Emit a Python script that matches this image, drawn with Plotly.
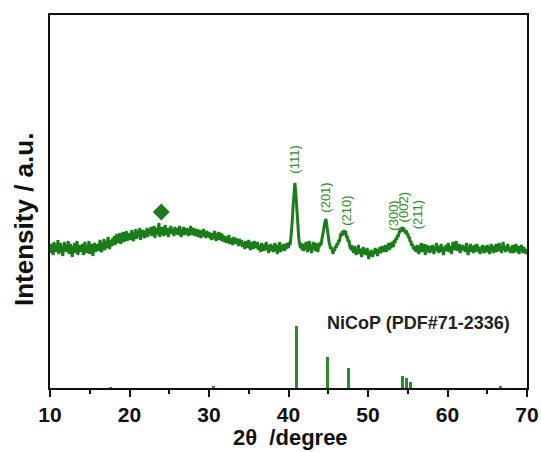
import numpy as np
import plotly.graph_objects as go

# ---- data ----
intensity = [
    141,135,144,138,133,146,139,136,143,137,148,134,140,145,136,142,132,139,146,137,
    143,136,141,147,134,139,144,136,131,142,138,145,135,140,147,133,139,143,136,141,
    137,144,133,140,146,138,135,142,139,147,134,141,137,144,132,140,145,136,142,139,
    144,137,141,148,139,136,145,142,149,138,143,147,140,151,144,139,148,145,142,150,
    146,152,143,149,154,145,150,147,155,144,151,148,156,146,152,149,157,147,153,150,
    155,148,153,158,150,147,156,152,159,149,154,157,151,160,148,155,152,158,153,150,
    157,153,160,151,156,159,154,161,152,157,155,162,150,158,153,160,156,165,151,158,
    154,161,156,152,159,163,153,157,160,151,158,155,162,154,159,156,152,161,157,154,
    160,153,157,162,155,151,159,156,161,153,158,154,160,157,152,159,155,162,153,157,
    155,160,152,157,154,159,151,156,158,153,150,157,154,159,152,155,150,157,153,151,
    156,150,154,148,155,152,149,157,151,147,154,150,156,148,152,155,147,153,150,146,
    152,148,145,151,147,153,144,150,146,149,143,151,147,144,150,145,148,142,149,146,
    143,148,141,146,144,139,147,142,145,140,148,143,138,146,141,144,139,147,142,145,
    140,146,138,143,141,136,145,139,142,137,144,140,146,138,141,135,143,139,144,137,
    142,136,140,145,137,141,134,143,139,146,136,140,143,138,144,137,141,139,145,142,
    140,146,143,150,158,170,185,198,205,197,184,168,156,149,144,140,145,138,142,137,
    144,139,146,140,136,143,147,138,142,135,141,146,139,143,137,145,140,136,144,141,
    146,143,149,152,157,163,168,169,164,157,150,146,143,139,141,136,134,139,137,142,
    140,145,143,148,146,151,155,152,157,154,158,153,157,150,152,146,148,142,139,143,
    137,141,135,142,138,133,140,136,143,134,139,137,131,138,141,135,139,133,137,140,
    134,129,136,132,138,133,131,137,135,140,134,138,132,139,136,141,135,138,142,136,
    140,137,143,136,141,139,145,138,142,140,146,143,141,148,145,150,148,153,151,155,
    157,159,156,161,158,160,157,155,158,153,155,150,151,146,147,142,144,139,142,137,
    141,136,143,138,134,142,139,145,136,140,137,144,133,139,143,137,141,135,142,138,
    136,143,139,134,141,137,145,138,140,135,142,139,144,136,140,133,141,138,143,137,
    140,145,136,139,142,134,141,146,138,143,140,147,137,142,139,144,135,141,138,143,
    138,142,136,140,145,137,133,141,139,144,136,142,138,135,143,140,137,144,136,141,
    139,134,141,137,143,138,135,142,140,136,143,137,141,134,139,144,137,140,135,142,
    138,144,136,141,137,145,139,142,135,140,146,138,142,136,141,139,144,137,140,135,
    141,137,143,135,140,138,144,136,139,142,134,140,137,143,138,135,141,137,139,134,
    138,
]
two_theta = np.linspace(10, 70, len(intensity))

ref_pos = [17.6, 30.6, 41.05, 44.9, 47.6, 54.4, 54.85, 55.35, 66.7]
ref_int = [0.8, 1.5, 62, 31, 20, 12, 10.5, 6.5, 1.5]

hkl_labels = ["(111)", "(201)", "(210)", "(300)", "(002)", "(211)"]
hkl_x = [40.65, 44.55, 47.2, 53.1, 54.45, 56.2]
hkl_y = [228, 190, 177, 172, 181, 173]

diamond_x = [24.0]
diamond_y = [176]

ref_label = "NiCoP (PDF#71-2336)"
x_ticks = [10, 20, 30, 40, 50, 60, 70]

GREEN = "#1a7d1a"
FONT = "Liberation Sans, Arial, sans-serif"

fig = go.Figure()
fig.add_trace(go.Scatter(x=two_theta, y=intensity, mode="lines",
                         line=dict(color=GREEN, width=3), hoverinfo="skip"))
fig.add_trace(go.Bar(x=ref_pos, y=ref_int, width=0.38,
                     marker=dict(color="#2a8c2a", line=dict(width=0))))
fig.add_trace(go.Scatter(x=diamond_x, y=diamond_y, mode="markers",
                         marker=dict(symbol="diamond", size=13, color=GREEN)))

annotations = []
for t, x, y in zip(hkl_labels, hkl_x, hkl_y):
    annotations.append(dict(x=x, y=y, xref="x", yref="y", text=t, showarrow=False,
                            textangle=-90, xanchor="center", yanchor="middle",
                            font=dict(family=FONT, size=13, color="#2e8b2e")))
annotations.append(dict(x=56.4, y=65, xref="x", yref="y", text=ref_label, showarrow=False,
                        xanchor="center", yanchor="middle",
                        font=dict(family=FONT, size=18, color="#222", weight="bold")))
annotations.append(dict(x=(24 - 50) / 477, y=(388 - 220) / 373, xref="paper", yref="paper",
                        text="Intensity / a.u.", showarrow=False, textangle=-90,
                        xanchor="center", yanchor="middle",
                        font=dict(family=FONT, size=26, color="#111", weight="bold")))
annotations.append(dict(x=(290 - 50) / 477, y=(388 - 437) / 373, xref="paper", yref="paper",
                        text="2θ  /degree", showarrow=False,
                        xanchor="center", yanchor="middle",
                        font=dict(family=FONT, size=22, color="#111", weight="bold")))

fig.update_layout(
    width=541, height=452,
    margin=dict(l=50, r=14, t=15, b=64),
    plot_bgcolor="white", paper_bgcolor="white",
    showlegend=False,
    bargap=0,
    annotations=annotations,
    xaxis=dict(range=[10, 70], tickvals=x_ticks, ticks="outside", ticklen=7, tickwidth=2,
               tickcolor="#111", showline=True, linecolor="#111", linewidth=2, mirror=True,
               showgrid=False, zeroline=False, automargin=False,
               tickfont=dict(family=FONT, size=21, color="#111", weight="bold"),
               minor=dict(dtick=5, ticks="outside", ticklen=4, tickwidth=2, tickcolor="#111", showgrid=False)),
    yaxis=dict(range=[0, 373], showticklabels=False, ticks="", showline=True, linecolor="#111",
               linewidth=2, mirror=True, showgrid=False, zeroline=False, automargin=False),
)

fig.write_html("out.html")
